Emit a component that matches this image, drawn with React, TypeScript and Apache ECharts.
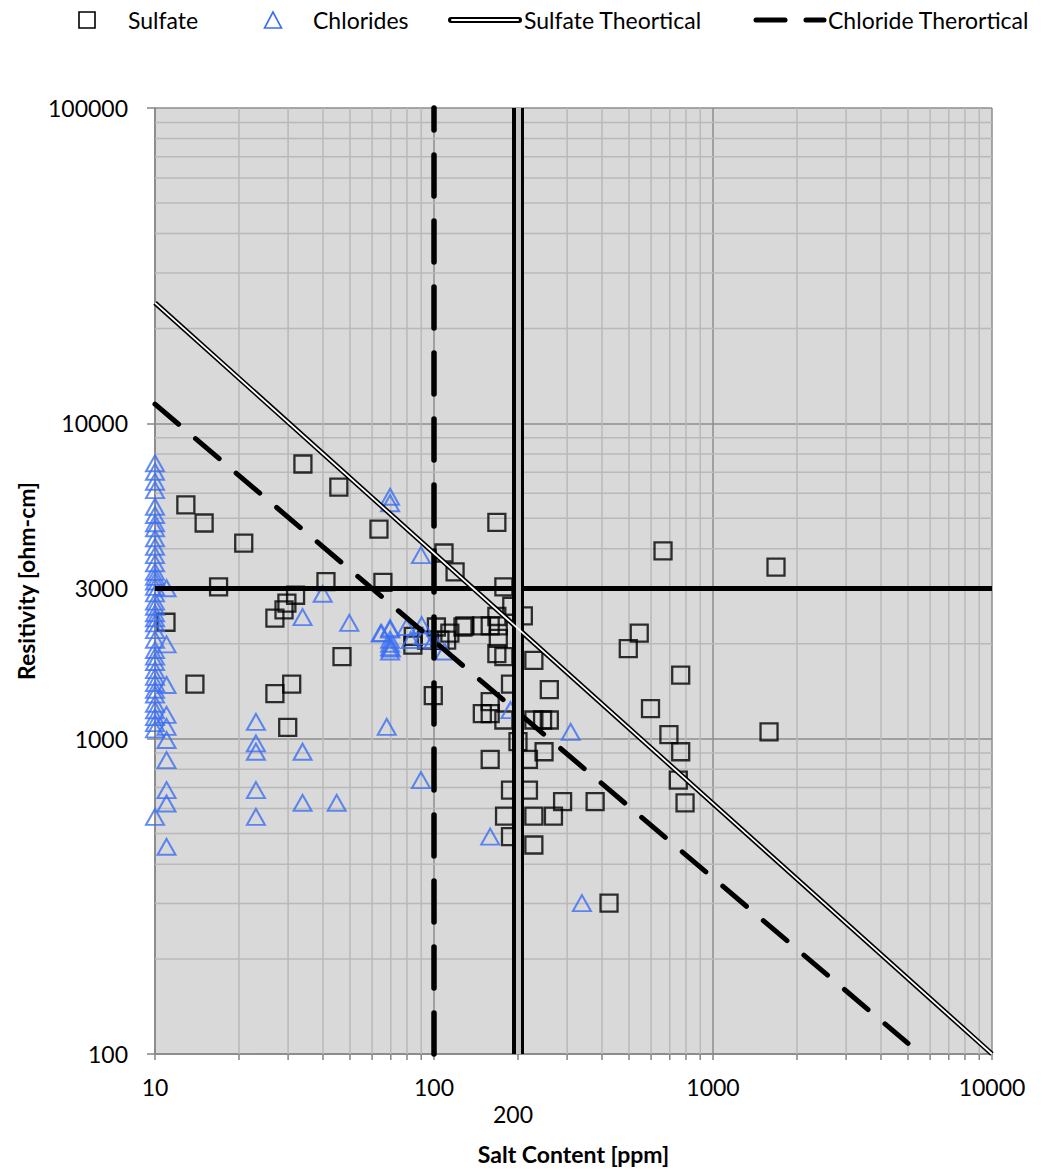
import React, { useEffect, useRef } from 'react';
import * as echarts from 'echarts';

const FONT = 'Lato, "Noto Sans", sans-serif';
const FS = 23;

// axis ranges
const X_MIN = 10;
const X_MAX = 10000;
const Y_MIN = 100;
const Y_MAX = 100000;

// Sulfate measurements: salt content [ppm] / resistivity [ohm-cm]
const sulfateX = [33.9, 45.6, 12.9, 15.0, 20.8, 63.5, 168, 108.6, 119, 662, 1682, 16.9, 41, 65.6, 178, 31.9, 29.7, 29.0, 26.9, 10.95, 46.8, 13.9, 30.9, 26.9, 29.9, 190, 209, 129, 148, 159, 170, 170, 178, 228, 188, 259, 99.4, 159, 149, 159, 178, 200, 228, 245, 259, 248, 218, 159, 188, 218, 179, 228, 268, 289, 378, 188, 228, 544, 497, 766, 597, 695, 766, 1588, 751, 794, 424, 84.3, 102, 114, 127, 84, 94, 105, 111, 168, 168];
const sulfateY = [7430, 6280, 5510, 4830, 4170, 4620, 4850, 3880, 3380, 3940, 3500, 3030, 3150, 3130, 3030, 2850, 2690, 2560, 2410, 2340, 1820, 1490, 1490, 1390, 1086, 2630, 2450, 2280, 2280, 2280, 2280, 2080, 1820, 1770, 1490, 1430, 1370, 1310, 1200, 1200, 1146, 978, 1146, 1146, 1146, 909, 860, 860, 687, 687, 568, 568, 568, 631, 631, 489, 460, 2160, 1930, 1590, 1245, 1030, 909, 1051, 739, 626, 301, 2110, 2260, 2160, 2260, 1980, 2055, 2055, 2055, 2440, 1860];

// Chloride measurements
const chlorideAt10Y = [7470, 7020, 6530, 6140, 5440, 5120, 4820, 4650, 4320, 4060, 3820, 3600, 3380, 3260, 3150, 3030, 2890, 2720, 2620, 2500, 2410, 2320, 2210, 2060, 1910, 1820, 1750, 1650, 1570, 1500, 1430, 1380, 1290, 1230, 1170, 1120, 1070, 565];
const chlorideAt11Y = [3000, 1990, 1480, 1190, 1090, 990, 855, 687, 623, 454];
const chlorideOtherX = [69.6, 69.6, 89.8, 39.9, 33.8, 49.7, 64.4, 69.6, 69.6, 69.6, 69.6, 67.7, 23, 23, 23, 33.8, 23, 23, 33.8, 44.8, 89.8, 188, 309, 159, 339, 64.9, 69.6, 69.6, 70, 79.8, 82.5, 90.3, 91.5, 99.6, 109];
const chlorideOtherY = [5850, 5580, 3820, 2880, 2430, 2330, 2160, 2220, 2060, 1950, 1890, 1090, 1130, 966, 909, 909, 687, 565, 626, 626, 739, 1232, 1051, 489, 301, 2160, 2240, 2000, 1930, 2260, 2055, 2290, 2110, 2055, 1890];

// Theoretical lines
const sulfateTheoryX = [10, 10000];
const sulfateTheoryY = [24100, 100];
const chlorideTheoryX = [10, 5000];
const chlorideTheoryY = [11500, 108];

// Threshold lines
const chlorideLimit = 100;
const sulfateLimit = 200;
const resistivityLimit = 3000;

function minorValues(min: number, max: number): number[] {
  const out: number[] = [];
  for (let d = min; d < max; d *= 10) {
    for (let m = 2; m <= 9; m++) out.push(m * d);
  }
  return out;
}

const zip = (xs: number[], ys: number[]) => xs.map((x, i) => [x, ys[i]]);

const BLUE = '#3B6EF2';
const MINOR = '#b9b9b9';
const MAJOR = '#8c8c8c';
const AXIS = '#868686';

function buildOption() {
  const sulfateData = zip(sulfateX, sulfateY);
  const chlorideData = [
    ...chlorideAt10Y.map((y) => [10, y]),
    ...chlorideAt11Y.map((y) => [11, y]),
    ...zip(chlorideOtherX, chlorideOtherY),
  ];
  const minorX = minorValues(X_MIN, X_MAX).map((v) => [v, Y_MIN]);
  const minorY = minorValues(Y_MIN, Y_MAX).map((v) => [X_MIN, v]);

  const labelStyle = { color: '#000', fontSize: FS, fontFamily: FONT };

  return {
    animation: false,
    backgroundColor: '#fff',
    grid: {
      left: 155,
      right: 66,
      top: 108,
      bottom: 119,
      show: true,
      backgroundColor: '#d9d9d9',
      borderWidth: 0,
    },
    xAxis: {
      type: 'log',
      logBase: 10,
      min: X_MIN,
      max: X_MAX,
      name: 'Salt Content [ppm]',
      nameLocation: 'middle',
      nameGap: 88,
      nameTextStyle: { color: '#000', fontSize: FS, fontFamily: FONT, fontWeight: 'bold' },
      axisLine: { show: true, lineStyle: { color: AXIS, width: 1.5 } },
      axisTick: { show: true, length: 6, lineStyle: { color: AXIS, width: 1.5 } },
      axisLabel: { ...labelStyle, margin: 21, formatter: (v: number) => String(Math.round(v)) },
      splitLine: { show: true, lineStyle: { color: MAJOR, width: 1.5 } },
    },
    yAxis: {
      type: 'log',
      logBase: 10,
      min: Y_MIN,
      max: Y_MAX,
      name: 'Resitivity [ohm-cm]',
      nameLocation: 'middle',
      nameGap: 114,
      nameTextStyle: { color: '#000', fontSize: FS, fontFamily: FONT, fontWeight: 'bold' },
      axisLine: { show: true, lineStyle: { color: AXIS, width: 1.5 } },
      axisTick: { show: true, length: 8, lineStyle: { color: AXIS, width: 1.5 } },
      axisLabel: { ...labelStyle, margin: 27, formatter: (v: number) => String(Math.round(v)) },
      splitLine: { show: true, lineStyle: { color: MAJOR, width: 1.5 } },
    },
    series: [
      {
        type: 'custom',
        name: 'minorX',
        silent: true,
        z: 1,
        data: minorX,
        renderItem: (params: any, api: any) => {
          const v = api.value(0);
          const bot = api.coord([v, Y_MIN]);
          const top = api.coord([v, Y_MAX]);
          return {
            type: 'group',
            children: [
              { type: 'line', shape: { x1: bot[0], y1: bot[1], x2: top[0], y2: top[1] }, style: { stroke: MINOR, lineWidth: 1.5 } },
              { type: 'line', shape: { x1: bot[0], y1: bot[1], x2: bot[0], y2: bot[1] + 6 }, style: { stroke: AXIS, lineWidth: 1.5 } },
            ],
          };
        },
      },
      {
        type: 'custom',
        name: 'minorY',
        silent: true,
        z: 1,
        data: minorY,
        renderItem: (params: any, api: any) => {
          const v = api.value(1);
          const l = api.coord([X_MIN, v]);
          const r = api.coord([X_MAX, v]);
          return { type: 'line', shape: { x1: l[0], y1: l[1], x2: r[0], y2: r[1] }, style: { stroke: MINOR, lineWidth: 1.5 } };
        },
      },
      {
        type: 'scatter',
        name: 'Sulfate',
        data: sulfateData,
        symbol: 'rect',
        symbolSize: 17,
        clip: false,
        z: 3,
        itemStyle: { color: 'rgba(0,0,0,0)', borderColor: '#000', borderWidth: 2.3 },
      },
      {
        type: 'scatter',
        name: 'Chlorides',
        data: chlorideData,
        symbol: 'triangle',
        symbolSize: [18, 16],
        clip: false,
        z: 3,
        itemStyle: { color: 'rgba(0,0,0,0)', borderColor: BLUE, borderWidth: 2 },
      },
      {
        type: 'line',
        name: 'Sulfate Theortical',
        data: zip(sulfateTheoryX, sulfateTheoryY),
        symbol: 'none',
        silent: true,
        z: 4,
        lineStyle: { color: '#000', width: 5 },
        markLine: {
          silent: true,
          symbol: 'none',
          animation: false,
          data: [
            {
              yAxis: resistivityLimit,
              lineStyle: { color: '#000', width: 5, type: 'solid' },
              label: { show: true, position: 'start', distance: 27, formatter: String(resistivityLimit), ...labelStyle },
            },
            {
              xAxis: sulfateLimit,
              lineStyle: { color: '#000', width: 12, type: 'solid' },
              label: { show: true, position: 'start', distance: 48, offset: [-5, 0], formatter: String(sulfateLimit), ...labelStyle },
            },
          ],
        },
      },
      {
        type: 'line',
        name: 'Sulfate Theortical inner',
        data: zip(sulfateTheoryX, sulfateTheoryY),
        symbol: 'none',
        silent: true,
        z: 5,
        lineStyle: { color: '#fff', width: 1.8 },
        markLine: {
          silent: true,
          symbol: 'none',
          animation: false,
          label: { show: false },
          data: [
            { xAxis: sulfateLimit, lineStyle: { color: '#c4c4c4', width: 5, type: 'solid' } },
          ],
        },
      },
      {
        type: 'line',
        name: 'Chloride Therortical',
        data: zip(chlorideTheoryX, chlorideTheoryY),
        symbol: 'none',
        silent: true,
        z: 4,
        lineStyle: { color: '#000', width: 5, type: [31, 22.2], cap: 'round' },
        markLine: {
          silent: true,
          symbol: 'none',
          animation: false,
          label: { show: false },
          data: [
            { xAxis: chlorideLimit, lineStyle: { color: '#000', width: 5.5, type: [41, 25], cap: 'round' } },
          ],
        },
      },
    ],
    graphic: [
      // legend
      { type: 'rect', shape: { x: 79, y: 12, width: 16, height: 16 }, style: { fill: 'none', stroke: '#000', lineWidth: 1.6 } },
      { type: 'text', x: 128, y: 20, style: { text: 'Sulfate', fill: '#000', fontSize: FS, fontFamily: FONT, verticalAlign: 'middle' } },
      { type: 'polygon', shape: { points: [[273, 12], [264.5, 28], [281.5, 28]] }, style: { fill: 'none', stroke: BLUE, lineWidth: 1.6 } },
      { type: 'text', x: 313, y: 20, style: { text: 'Chlorides', fill: '#000', fontSize: FS, fontFamily: FONT, verticalAlign: 'middle' } },
      { type: 'line', shape: { x1: 451, y1: 20, x2: 519, y2: 20 }, style: { stroke: '#000', lineWidth: 6, lineCap: 'round' } },
      { type: 'line', shape: { x1: 452, y1: 20, x2: 518, y2: 20 }, style: { stroke: '#fff', lineWidth: 2, lineCap: 'round' } },
      { type: 'text', x: 524, y: 20, style: { text: 'Sulfate Theortical', fill: '#000', fontSize: FS, fontFamily: FONT, verticalAlign: 'middle' } },
      { type: 'line', shape: { x1: 756, y1: 20, x2: 785, y2: 20 }, style: { stroke: '#000', lineWidth: 5, lineCap: 'round' } },
      { type: 'line', shape: { x1: 806, y1: 20, x2: 824, y2: 20 }, style: { stroke: '#000', lineWidth: 5, lineCap: 'round' } },
      { type: 'text', x: 828, y: 20, style: { text: 'Chloride Therortical', fill: '#000', fontSize: FS, fontFamily: FONT, verticalAlign: 'middle' } },
    ],
  };
}

export default function App() {
  const ref = useRef<HTMLDivElement>(null);
  useEffect(() => {
    if (!ref.current) return;
    const chart = echarts.init(ref.current, null, { renderer: 'svg' });
    chart.setOption(buildOption() as any);
    return () => chart.dispose();
  }, []);
  return (
    <div
      ref={ref}
      style={{ position: 'fixed', left: 0, top: 0, width: 1058, height: 1173, background: '#fff' }}
    />
  );
}
